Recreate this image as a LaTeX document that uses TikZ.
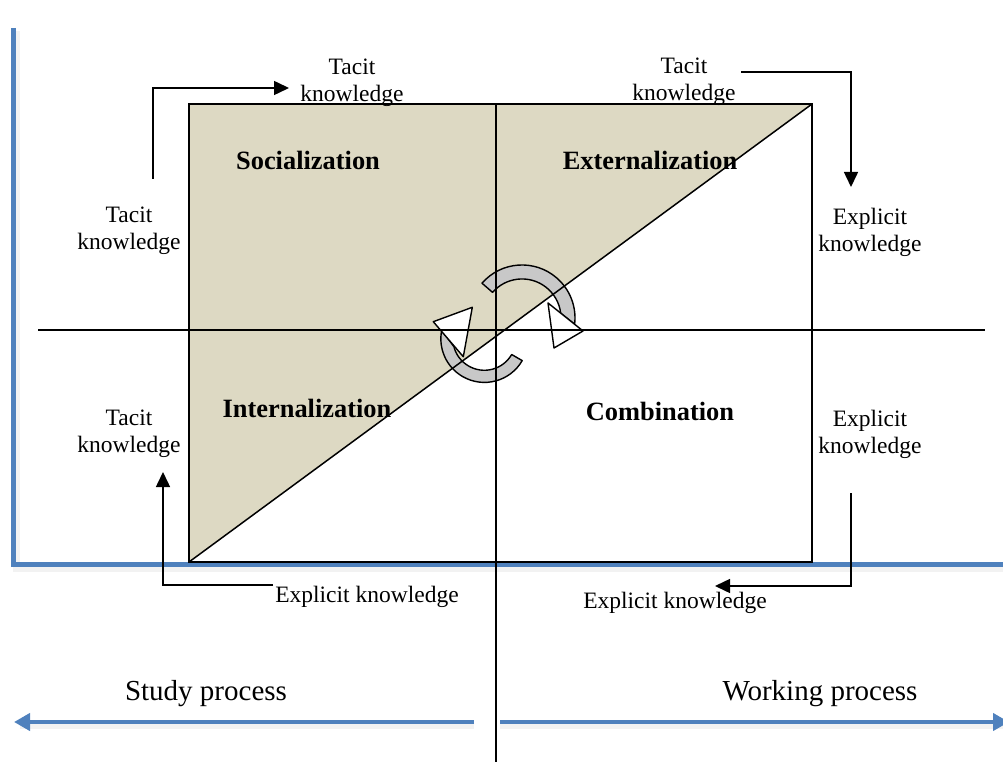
\documentclass[tikz,border=0pt]{standalone}
\usepackage{fontspec}
\setmainfont{Liberation Serif}
\usetikzlibrary{arrows.meta}
\definecolor{axisblue}{RGB}{79,129,189}
\definecolor{beige}{RGB}{221,217,195}
\definecolor{bodygray}{RGB}{200,200,200}
\begin{document}
\begin{tikzpicture}[x=1pt,y=-1pt,
  lbl/.style={font=\fontsize{23.5}{27}\selectfont, align=center, inner sep=0pt},
  quad/.style={font=\fontsize{26.4}{30}\selectfont\bfseries, inner sep=0pt, anchor=base},
  proc/.style={font=\fontsize{29}{33}\selectfont, inner sep=0pt, anchor=base},
  flow/.style={line width=1.5pt, -{Triangle[length=15pt,width=14pt]}},
  bluearrow/.style={draw=axisblue, line width=4.5pt, -{Triangle[length=16pt,width=17pt]}},
  blueshadow/.style={draw=gray!10, line width=7pt},
  cbody/.style={fill=bodygray, draw=black, line width=1.4pt, line join=round},
  chead/.style={fill=white, draw=black, line width=1.4pt, line join=round},
  axis/.style={line width=1.6pt}]
\useasboundingbox (0,0) rectangle (1003,762);
% blue frame with soft shadow
\draw[blueshadow] (16,31) -- (16,568) -- (1003,568);
\draw[axisblue, line width=5pt] (13,28) -- (13,564.5) -- (1003,564.5);
% shaded upper-left triangle
\fill[beige] (189,104) -- (812,104) -- (189,562) -- cycle;
% central circular arrows
\filldraw[cbody] (482,283.2) arc[start angle=-139, end angle=6.8, radius=53]
  -- (560.7,313.2) arc[start angle=-7, end angle=-139, radius=39] -- cycle;
\filldraw[chead] (548,303) -- (583,331) -- (554,348) -- cycle;
\filldraw[cbody] (522.2,360.6) arc[start angle=30, end angle=191.6, radius=43.6]
  -- (453.9,346.7) arc[start angle=165.4, end angle=30, radius=31.5] -- cycle;
\filldraw[chead] (433.3,321.7) -- (472.3,307.3) -- (463.3,356.7) -- cycle;
% axes, diagonal and frame
\draw[axis] (38,330) -- (985,330);
\draw[axis] (496,104) -- (496,762);
\draw[line width=1.5pt] (189,562) -- (812,104);
\draw[line width=2pt] (189,104) rectangle (812,562);
% labels
\node[lbl] (tTL) at (352,83) {Tacit\\knowledge};
\node[lbl] (tTR) at (684,82) {Tacit\\knowledge};
\node[lbl] (tL1) at (129,230.5) {Tacit\\knowledge};
\node[lbl] (eR1) at (870,232) {Explicit\\knowledge};
\node[lbl] (tL2) at (129,433.5) {Tacit\\knowledge};
\node[lbl] (eR2) at (870,434) {Explicit\\knowledge};
\node[lbl, anchor=base] (eB1) at (367,602) {Explicit knowledge};
\node[lbl, anchor=base] (eB2) at (675,608) {Explicit knowledge};
\node[quad] (soc) at (308,170) {Socialization};
\node[quad] (ext) at (650,170) {Externalization};
\node[quad] (int) at (307,417) {Internalization};
\node[quad] (com) at (660,420) {Combination};
\node[proc] (sp) at (206,700) {Study process};
\node[proc] (wp) at (820,700) {Working process};
% process arrows
\coordinate (sl0) at (474,722); \coordinate (sl1) at (14,722);
\coordinate (wl0) at (500,722); \coordinate (wl1) at (1009,722);
\draw[blueshadow] (474,725) -- (20,725);
\draw[blueshadow] (500,725) -- (1003,725);
\draw[bluearrow] (sl0) -- (sl1);
\draw[bluearrow] (wl0) -- (wl1);
% knowledge flow arrows
\coordinate (a1s) at (153,179); \coordinate (a1e) at (289,88);
\coordinate (a2s) at (741,72);  \coordinate (a2e) at (851,187);
\coordinate (a3s) at (851,493); \coordinate (a3e) at (715,586);
\coordinate (a4s) at (273,585); \coordinate (a4e) at (163,472);
\draw[flow] (a1s) |- (a1e);
\draw[flow] (a2s) -| (a2e);
\draw[flow] (a3s) |- (a3e);
\draw[flow] (a4s) -| (a4e);
\end{tikzpicture}
\end{document}
